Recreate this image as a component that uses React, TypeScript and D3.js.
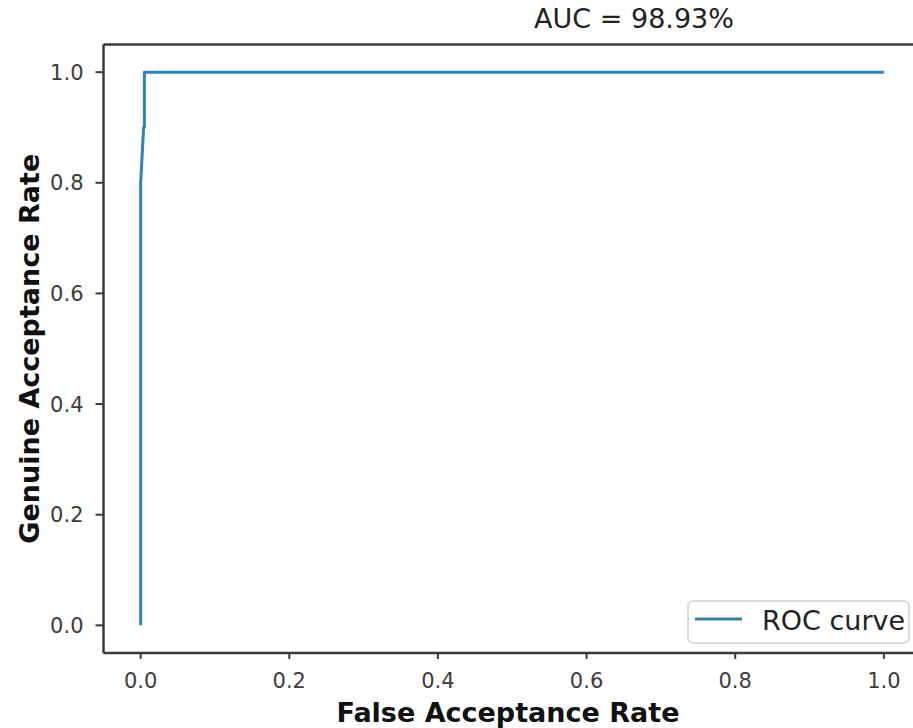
import React from "react";
import * as d3 from "d3";

const fpr = [0, 0, 0.004, 0.005, 0.005, 1];
const tpr = [0, 0.8, 0.9, 0.9, 1.0, 1.0];
const xTicks = [0, 0.2, 0.4, 0.6, 0.8, 1.0];
const yTicks = [0, 0.2, 0.4, 0.6, 0.8, 1.0];
const titleText = "AUC = 98.93%";
const xLabel = "False Acceptance Rate";
const yLabel = "Genuine Acceptance Rate";
const legendLabel = "ROC curve";

const W = 913;
const H = 728;
const left = 103.5;
const right = 921;
const top = 44.5;
const bottom = 653;

export default function App() {
  const x = d3.scaleLinear().domain([-0.05, 1.05]).range([left, right]);
  const y = d3.scaleLinear().domain([-0.05, 1.05]).range([bottom, top]);
  const pts = fpr.map((f, i) => [f, tpr[i]] as [number, number]);
  const line = d3
    .line<[number, number]>()
    .x((d) => x(d[0]))
    .y((d) => y(d[1]));
  const lineColor = "#3083b5";
  const axisColor = "#3a3a3a";
  const font = "'DejaVu Sans', sans-serif";
  return (
    <div style={{ position: "absolute", left: 0, top: 0 }}>
      <svg width={W} height={H} style={{ display: "block", background: "#fff" }}>
        <rect x={0} y={0} width={W} height={H} fill="#fff" />
        <path d={line(pts) || ""} fill="none" stroke={lineColor} strokeWidth={3} strokeLinejoin="round" />
        {/* spines */}
        <line x1={left} x2={right} y1={top} y2={top} stroke={axisColor} strokeWidth={2.5} />
        <line x1={left} x2={right} y1={bottom} y2={bottom} stroke={axisColor} strokeWidth={2.5} />
        <line x1={left} x2={left} y1={top} y2={bottom} stroke={axisColor} strokeWidth={2.5} />
        <line x1={right} x2={right} y1={top} y2={bottom} stroke={axisColor} strokeWidth={2.5} />
        {xTicks.map((t) => (
          <g key={"x" + t}>
            <line x1={x(t)} x2={x(t)} y1={bottom} y2={bottom + 6} stroke={axisColor} strokeWidth={2} />
            <text x={x(t)} y={bottom + 35} textAnchor="middle" fontFamily={font} fontSize={21} fill="#3c3c3c">
              {t.toFixed(1)}
            </text>
          </g>
        ))}
        {yTicks.map((t) => (
          <g key={"y" + t}>
            <line x1={left - 8} x2={left} y1={y(t)} y2={y(t)} stroke={axisColor} strokeWidth={2} />
            <text x={left - 20} y={y(t)} dy="0.36em" textAnchor="end" fontFamily={font} fontSize={21} fill="#3c3c3c">
              {t.toFixed(1)}
            </text>
          </g>
        ))}
        <text x={634} y={28} textAnchor="middle" fontFamily={font} fontSize={27} fill="#222">
          {titleText}
        </text>
        <text x={508} y={722} textAnchor="middle" fontFamily={font} fontWeight="bold" fontSize={27} fill="#111">
          {xLabel}
        </text>
        <text
          transform={`translate(39,${(top + bottom) / 2}) rotate(-90)`}
          textAnchor="middle"
          fontFamily={font}
          fontWeight="bold"
          fontSize={27}
          fill="#111"
        >
          {yLabel}
        </text>
        {/* legend */}
        <rect x={688} y={601} width={221} height={42} rx={5} fill="#fff" stroke="#d0d0d0" strokeWidth={1.5} />
        <line x1={695} x2={742} y1={619} y2={619} stroke="#3a8199" strokeWidth={3} />
        <text x={762} y={630} fontFamily={font} fontSize={27} fill="#222">
          {legendLabel}
        </text>
      </svg>
    </div>
  );
}
